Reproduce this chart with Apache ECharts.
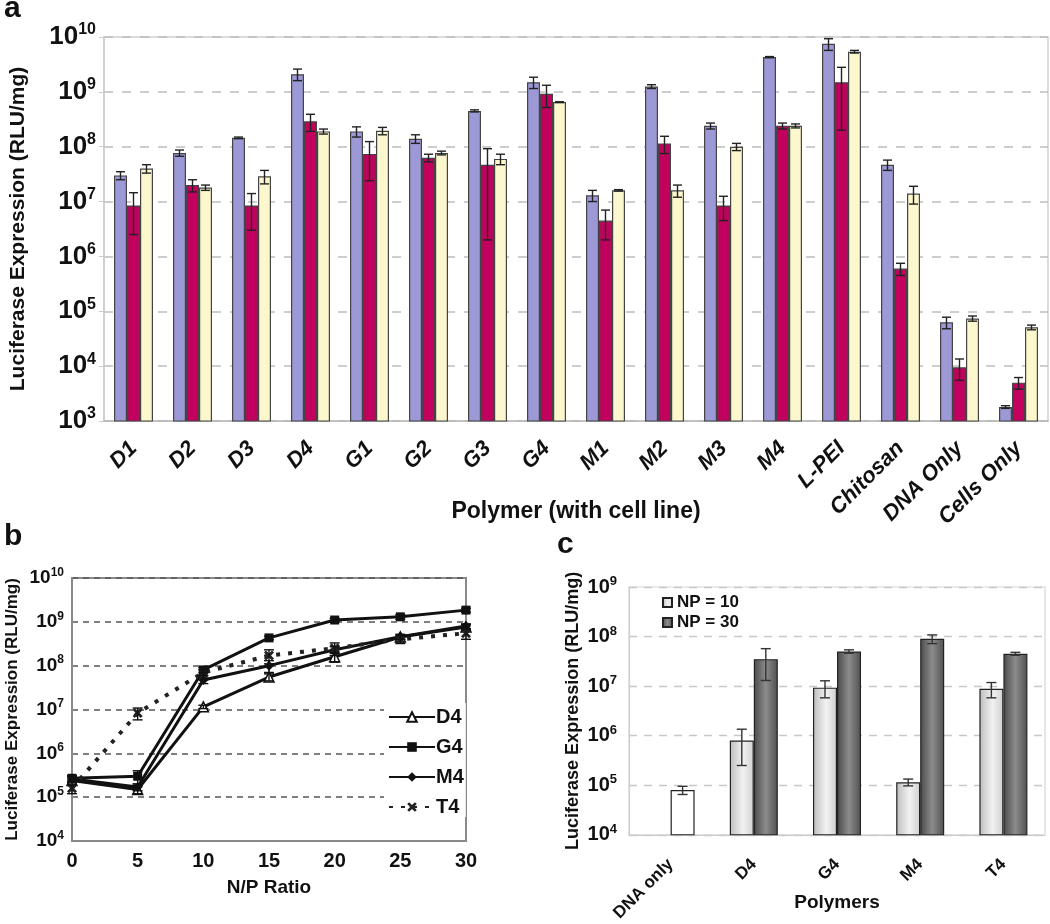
<!DOCTYPE html>
<html>
<head>
<meta charset="utf-8">
<script src="https://cdn.jsdelivr.net/npm/echarts@6/dist/echarts.min.js"></script>
<style>
  html, body { margin: 0; padding: 0; background: #fff; }
  #main { width: 1050px; height: 924px; }
</style>
</head>
<body>
<div id="main"></div>
<script>
// ---- panel a: polymer screen (three cell lines) ----
const polymers = ['D1', 'D2', 'D3', 'D4', 'G1', 'G2', 'G3', 'G4', 'M1', 'M2', 'M3', 'M4', 'L-PEI', 'Chitosan', 'DNA Only', 'Cells Only'];
const lineA = [3.0e7, 7.7e7, 1.45e8, 2.1e9, 1.9e8, 1.4e8, 4.5e8, 1.5e9, 1.3e7, 1.25e9, 2.4e8, 4.3e9, 7.5e9, 4.7e7, 6.3e4, 1.8e3];
const lineAErr = [0.5e7, 1.0e7, 0.05e8, 0.5e9, 0.4e8, 0.25e8, 0.2e8, 0.35e9, 0.3e7, 0.1e9, 0.3e8, 0.1e9, 1.8e9, 1.0e7, 1.5e4, 0.1e3];
const lineB = [8.5e6, 2.0e7, 8.5e6, 2.9e8, 7.4e7, 6.3e7, 4.7e7, 9.2e8, 4.5e6, 1.15e8, 8.5e6, 2.4e8, 1.5e9, 6.0e5, 9.5e3, 5.0e3];
const lineBErr = [6.0e6, 5.0e6, 5.5e6, 1.0e8, 5.0e7, 1.0e7, 4.5e7, 4.0e8, 2.5e6, 4.0e7, 4.0e6, 3.0e7, 1.3e9, 1.5e5, 4.0e3, 1.2e3];
const lineC = [4.0e7, 1.8e7, 2.9e7, 1.9e8, 1.95e8, 7.7e7, 6.0e7, 6.5e8, 1.6e7, 1.6e7, 1.0e8, 2.4e8, 5.4e9, 1.4e7, 7.4e4, 5.1e4];
const lineCErr = [0.7e7, 0.2e7, 0.8e7, 2.0e7, 0.3e8, 0.6e7, 1.3e7, 0.1e8, 0.05e7, 0.4e7, 1.5e7, 2.0e7, 0.3e9, 0.5e7, 0.8e4, 0.5e4];

// ---- panel b: N/P ratio series ----
const npRatio = [0, 5, 10, 15, 20, 25, 30];
const d4Vals = [2.4e5, 1.5e5, 1.15e7, 5.5e7, 1.6e8, 4.5e8, 7.6e8];
const d4Err = [0.5e5, 0.3e5, 0.1e7, 1.0e7, 0.4e8, 0.5e8, 1.0e8];
const g4Vals = [2.7e5, 3.0e5, 8.0e7, 4.3e8, 1.1e9, 1.3e9, 1.85e9];
const g4Err = [0.4e5, 1.0e5, 1.0e7, 0.4e8, 0.1e9, 0.15e9, 0.2e9];
const m4Vals = [2.6e5, 1.7e5, 4.7e7, 1.0e8, 2.3e8, 4.6e8, 8.0e8];
const m4Err = [0.4e5, 0.3e5, 0.8e7, 0.3e8, 0.4e8, 0.6e8, 1.0e8];
const t4Vals = [1.6e5, 8.3e6, 7.0e7, 1.7e8, 2.5e8, 4.0e8, 5.5e8];
const t4Err = [0.4e5, 2.5e6, 1.0e7, 0.6e8, 0.8e8, 0.8e8, 1.5e8];

// ---- panel c: NP = 10 vs NP = 30 ----
const polymersC = ['DNA only', 'D4', 'G4', 'M4', 'T4'];
const np10Vals = [null, 8.0e5, 9.3e6, 1.15e5, 8.8e6];
const np10Err = [null, 5.5e5, 3.5e6, 1.8e4, 3.0e6];
const np30Vals = [8.0e4, 3.5e7, 5.0e7, 9.0e7, 4.5e7];
const np30Err = [1.5e4, 2.2e7, 4.0e6, 1.8e7, 3.0e6];

const FONT = '"Liberation Sans", Arial, sans-serif';

function powLabel(big, small, raise) {
  return {
    formatter: function (v) {
      return '{b|10}{s|' + Math.round(Math.log10(v)) + '}';
    },
    rich: {
      b: { fontSize: big, fontWeight: 'bold', fontFamily: FONT, color: '#111', lineHeight: big + 4 },
      s: { fontSize: small, fontWeight: 'bold', fontFamily: FONT, color: '#111', verticalAlign: 'top', padding: [0, 0, raise, 0] }
    }
  };
}

// error bars drawn as custom series on the same axes
function errSeries(xi, yi, data, offset, cap, color) {
  return {
    type: 'custom',
    xAxisIndex: xi,
    yAxisIndex: yi,
    z: 10,
    silent: true,
    encode: { x: 0, y: [1, 2] },
    data: data,
    renderItem: function (params, api) {
      const top = api.coord([api.value(0), api.value(2)]);
      const bot = api.coord([api.value(0), api.value(1)]);
      const x = top[0] + offset;
      const st = { stroke: color, lineWidth: 1.4 };
      return {
        type: 'group',
        children: [
          { type: 'line', shape: { x1: x, y1: top[1], x2: x, y2: bot[1] }, style: st },
          { type: 'line', shape: { x1: x - cap, y1: top[1], x2: x + cap, y2: top[1] }, style: st },
          { type: 'line', shape: { x1: x - cap, y1: bot[1], x2: x + cap, y2: bot[1] }, style: st }
        ]
      };
    }
  };
}

function errData(xs, vals, errs, floor) {
  const out = [];
  vals.forEach(function (v, i) {
    if (v == null) return;
    out.push([xs[i], Math.max(v - errs[i], floor), v + errs[i]]);
  });
  return out;
}

const idx = polymers.map(function (_, i) { return i; });
const idxC = polymersC.map(function (_, i) { return i; });

const barBorder = { borderColor: '#444', borderWidth: 1.2 };
const lightGrad = new echarts.graphic.LinearGradient(0, 0, 1, 0, [
  { offset: 0, color: '#bdbdbd' }, { offset: 0.55, color: '#f2f2f2' }, { offset: 1, color: '#d0d0d0' }
]);
const darkGrad = new echarts.graphic.LinearGradient(0, 0, 1, 0, [
  { offset: 0, color: '#4a4a4a' }, { offset: 0.5, color: '#8c8c8c' }, { offset: 1, color: '#505050' }
]);

const chart = echarts.init(document.getElementById('main'));
const option = {
  backgroundColor: '#fff',
  animation: false,
  textStyle: { fontFamily: FONT },
  title: [
    { text: 'a', left: 4, top: -6, padding: 0, textStyle: { fontSize: 30, fontWeight: 'bold', color: '#111', fontFamily: FONT } },
    { text: 'b', left: 4, top: 522, padding: 0, textStyle: { fontSize: 30, fontWeight: 'bold', color: '#111', fontFamily: FONT } },
    { text: 'c', left: 557, top: 530, padding: 0, textStyle: { fontSize: 30, fontWeight: 'bold', color: '#111', fontFamily: FONT } }
  ],
  legend: [
    {
      data: ['D4', 'G4', 'M4', 'T4'],
      orient: 'vertical',
      left: 384, top: 703,
      itemWidth: 46, itemHeight: 12, itemGap: 10,
      backgroundColor: '#fff',
      padding: [4, 2, 0, 4],
      textStyle: { fontSize: 20, fontWeight: 'bold', color: '#111', fontFamily: FONT, padding: [0, 0, 0, -4] }
    },
    {
      data: ['NP = 10', 'NP = 30'],
      orient: 'vertical',
      left: 657, top: 589,
      itemWidth: 9, itemHeight: 9, itemGap: 3,
      icon: 'rect',
      textStyle: { fontSize: 17, fontWeight: 'bold', color: '#111', fontFamily: FONT }
    }
  ],
  grid: [
    { left: 103, top: 37, width: 945, height: 384, show: true, borderColor: '#cfcfcf', borderWidth: 1.5 },
    { left: 72, top: 578, width: 394, height: 263, show: true, borderColor: '#8a8a8a', borderWidth: 2 },
    { left: 629, top: 587, width: 416, height: 259, show: true, borderColor: '#d8d8d8', borderWidth: 1.2 }
  ],
  xAxis: [
    {
      gridIndex: 0, type: 'category', data: polymers,
      name: 'Polymer (with cell line)', nameLocation: 'middle', nameGap: 79, nameMoveOverlap: false,
      nameTextStyle: { fontSize: 23, fontWeight: 'bold', color: '#111', fontFamily: FONT },
      axisLine: { lineStyle: { color: '#bbb', width: 1.5 } },
      axisTick: { length: 5, lineStyle: { color: '#bbb' } },
      axisLabel: { interval: 0, rotate: 45, margin: 24, fontSize: 22, fontWeight: 'bold', fontStyle: 'italic', color: '#111', fontFamily: FONT }
    },
    {
      gridIndex: 1, type: 'value', min: 0, max: 30, interval: 5,
      name: 'N/P Ratio', nameLocation: 'middle', nameGap: 37, nameMoveOverlap: false,
      nameTextStyle: { fontSize: 19, fontWeight: 'bold', color: '#111', fontFamily: FONT },
      axisLine: { lineStyle: { color: '#8a8a8a', width: 2 } },
      axisTick: { show: false },
      splitLine: { show: false },
      axisLabel: { margin: 10, fontSize: 20, fontWeight: 'bold', color: '#111', fontFamily: FONT }
    },
    {
      gridIndex: 2, type: 'category', data: polymersC,
      name: 'Polymers', nameLocation: 'middle', nameGap: 58, nameMoveOverlap: false,
      nameTextStyle: { fontSize: 19, fontWeight: 'bold', color: '#111', fontFamily: FONT },
      axisLine: { lineStyle: { color: '#ccc', width: 1.2 } },
      axisTick: { length: 5, lineStyle: { color: '#ccc' } },
      axisLabel: { interval: 0, rotate: 45, margin: 27, fontSize: 17, fontWeight: 'bold', color: '#111', fontFamily: FONT }
    }
  ],
  yAxis: [
    Object.assign({
      gridIndex: 0, type: 'log', logBase: 10, min: 1e3, max: 1e10, splitNumber: 7,
      name: 'Luciferase Expression (RLU/mg)', nameLocation: 'middle', nameGap: 75, nameRotate: 90, nameMoveOverlap: false,
      nameTextStyle: { fontSize: 21, fontWeight: 'bold', color: '#111', fontFamily: FONT },
      axisLine: { show: true, lineStyle: { color: '#ccc', width: 1.5 } },
      axisTick: { show: true, length: 5, lineStyle: { color: '#ccc' } },
      splitLine: { show: true, lineStyle: { color: '#bdbdbd', width: 1.5, type: [9, 9] } },
      minorTick: { show: false }
    }, { axisLabel: Object.assign({ margin: 8 }, powLabel(26, 16, 12)) }),
    Object.assign({
      gridIndex: 1, type: 'log', logBase: 10, min: 1e4, max: 1e10, splitNumber: 6,
      name: 'Luciferase Expression (RLU/mg)', nameLocation: 'middle', nameGap: 51, nameRotate: 90, nameMoveOverlap: false,
      nameTextStyle: { fontSize: 17, fontWeight: 'bold', color: '#111', fontFamily: FONT },
      axisLine: { show: true, lineStyle: { color: '#8a8a8a', width: 2 } },
      axisTick: { show: false },
      splitLine: { show: true, lineStyle: { color: '#555', width: 1.5, type: [6, 5] } }
    }, { axisLabel: Object.assign({ margin: 8 }, powLabel(19, 12, 9)) }),
    Object.assign({
      gridIndex: 2, type: 'log', logBase: 10, min: 1e4, max: 1e9, splitNumber: 5,
      name: 'Luciferase Expression (RLU/mg)', nameLocation: 'middle', nameGap: 47, nameRotate: 90, nameMoveOverlap: false,
      nameTextStyle: { fontSize: 18, fontWeight: 'bold', color: '#111', fontFamily: FONT },
      axisLine: { show: true, lineStyle: { color: '#ccc', width: 1.2 } },
      axisTick: { show: false },
      splitLine: { show: true, lineStyle: { color: '#c8c8c8', width: 1.3, type: [8, 7] } }
    }, { axisLabel: Object.assign({ margin: 12 }, powLabel(20, 13, 10)) })
  ],
  series: [
    // panel a bars
    { name: 'line 1', type: 'bar', xAxisIndex: 0, yAxisIndex: 0, data: lineA, barWidth: 13, barGap: '0%', itemStyle: Object.assign({ color: '#9c99d6' }, barBorder) },
    { name: 'line 2', type: 'bar', xAxisIndex: 0, yAxisIndex: 0, data: lineB, barWidth: 13, barGap: '0%', itemStyle: Object.assign({ color: '#c2005e' }, barBorder) },
    { name: 'line 3', type: 'bar', xAxisIndex: 0, yAxisIndex: 0, data: lineC, barWidth: 13, barGap: '0%', itemStyle: Object.assign({ color: '#fcf7cc' }, barBorder) },
    errSeries(0, 0, errData(idx, lineA, lineAErr, 1.01e3), -13, 4.5, '#222'),
    errSeries(0, 0, errData(idx, lineB, lineBErr, 1.01e3), 0, 4.5, '#222'),
    errSeries(0, 0, errData(idx, lineC, lineCErr, 1.01e3), 13, 4.5, '#222'),

    // panel b lines
    {
      name: 'D4', type: 'line', xAxisIndex: 1, yAxisIndex: 1,
      data: npRatio.map(function (x, i) { return [x, d4Vals[i]]; }),
      symbol: 'triangle', symbolSize: 10,
      lineStyle: { color: '#111', width: 3 },
      itemStyle: { color: '#fff', borderColor: '#111', borderWidth: 1.5 }
    },
    {
      name: 'G4', type: 'line', xAxisIndex: 1, yAxisIndex: 1,
      data: npRatio.map(function (x, i) { return [x, g4Vals[i]]; }),
      symbol: 'rect', symbolSize: 9,
      lineStyle: { color: '#111', width: 3 },
      itemStyle: { color: '#111' }
    },
    {
      name: 'M4', type: 'line', xAxisIndex: 1, yAxisIndex: 1,
      data: npRatio.map(function (x, i) { return [x, m4Vals[i]]; }),
      symbol: 'diamond', symbolSize: 10,
      lineStyle: { color: '#111', width: 3 },
      itemStyle: { color: '#111' }
    },
    {
      name: 'T4', type: 'line', xAxisIndex: 1, yAxisIndex: 1,
      data: npRatio.map(function (x, i) { return [x, t4Vals[i]]; }),
      symbol: 'path://M0,2L2,0L5,3L8,0L10,2L7,5L10,8L8,10L5,7L2,10L0,8L3,5Z', symbolSize: 10,
      lineStyle: { color: '#222', width: 4, type: [4, 8] },
      itemStyle: { color: '#222' }
    },
    errSeries(1, 1, errData(npRatio, d4Vals, d4Err, 1.01e4), 0, 5, '#111'),
    errSeries(1, 1, errData(npRatio, g4Vals, g4Err, 1.01e4), 0, 5, '#111'),
    errSeries(1, 1, errData(npRatio, m4Vals, m4Err, 1.01e4), 0, 5, '#111'),
    errSeries(1, 1, errData(npRatio, t4Vals, t4Err, 1.01e4), 0, 5, '#111'),

    // panel c bars
    {
      name: 'NP = 10', type: 'bar', xAxisIndex: 2, yAxisIndex: 2,
      data: np10Vals.map(function (v) { return v == null ? '-' : v; }),
      barWidth: 24, barGap: '0%',
      itemStyle: { color: lightGrad, borderColor: '#222', borderWidth: 1.2 }
    },
    {
      name: 'NP = 30', type: 'bar', xAxisIndex: 2, yAxisIndex: 2,
      data: np30Vals.map(function (v, i) {
        // the DNA-only control is drawn as an open bar
        return i === 0 ? { value: v, itemStyle: { color: '#fff' } } : v;
      }),
      barWidth: 24, barGap: '0%',
      itemStyle: { color: darkGrad, borderColor: '#222', borderWidth: 1.2 }
    },
    errSeries(2, 2, errData(idxC, np10Vals, np10Err, 1.01e4), -12, 5, '#333'),
    errSeries(2, 2, errData(idxC, np30Vals, np30Err, 1.01e4), 12, 5, '#333')
  ]
};
chart.setOption(option);
</script>
</body>
</html>
